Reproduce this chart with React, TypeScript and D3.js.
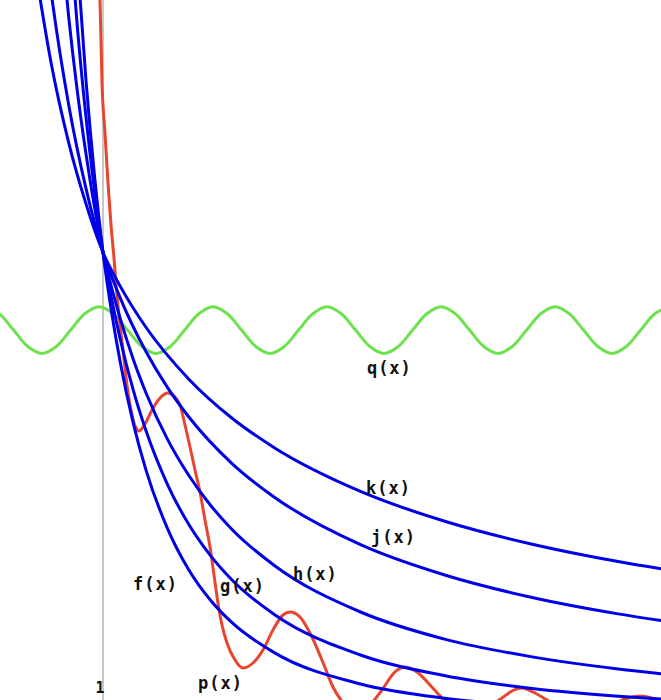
import { useEffect, useRef } from 'react';
import * as d3 from 'd3';

type Pt = [number, number];

// blue family (x, y)
const fPoints: Pt[] = [[0.82, 1.814], [0.85, 1.628], [0.9, 1.372], [0.95, 1.166], [1, 1], [1.05, 0.8723], [1.1, 0.766], [1.175, 0.6366], [1.25, 0.535], [1.375, 0.41], [1.5, 0.321], [1.625, 0.2568], [1.75, 0.2087], [2, 0.1436], [2.5, 0.0769], [3, 0.0461], [3.5, 0.03], [4, 0.0206], [4.3, 0.0168]];
const gPoints: Pt[] = [[0.8, 1.72], [0.85, 1.484], [0.9, 1.292], [0.95, 1.133], [1, 1], [1.05, 0.9004], [1.1, 0.815], [1.175, 0.707], [1.25, 0.619], [1.375, 0.5042], [1.5, 0.418], [1.625, 0.3521], [1.75, 0.3], [2, 0.225], [2.5, 0.139], [3, 0.0942], [3.5, 0.0676], [4, 0.0508], [4.3, 0.0435]];
const hPoints: Pt[] = [[0.75, 1.693], [0.8, 1.504], [0.85, 1.346], [0.9, 1.213], [0.95, 1.098], [1, 1], [1.05, 0.9249], [1.1, 0.859], [1.175, 0.7726], [1.25, 0.7], [1.375, 0.6008], [1.5, 0.523], [1.625, 0.4599], [1.75, 0.408], [2, 0.33], [2.5, 0.231], [3, 0.172], [3.5, 0.135], [4, 0.109], [4.3, 0.097]];
const jPoints: Pt[] = [[0.65, 1.699], [0.7, 1.551], [0.8, 1.316], [0.9, 1.138], [1, 1], [1.1, 0.903], [1.25, 0.788], [1.375, 0.7113], [1.5, 0.648], [1.75, 0.549], [2, 0.476], [2.5, 0.375], [3, 0.309], [3.5, 0.262], [4, 0.227], [4.3, 0.21]];
const kPoints: Pt[] = [[0.6, 1.62], [0.7, 1.401], [0.8, 1.235], [0.9, 1.105], [1, 1], [1.1, 0.928], [1.25, 0.84], [1.5, 0.729], [1.75, 0.646], [2, 0.582], [2.5, 0.489], [3, 0.424], [3.5, 0.376], [4, 0.339], [4.3, 0.3205]];

// red p(x)
const pPoints: Pt[] = [
  [0.9766, 1.583], [0.9824, 1.54], [0.9941, 1.3626], [1.0115, 1.2556], [1.029, 1.1487], [1.0465, 1.0588],
  [1.0639, 0.9882], [1.0814, 0.9091], [1.0989, 0.8449], [1.1164, 0.7914], [1.1397, 0.7166], [1.163, 0.6631],
  [1.1921, 0.6246], [1.2096, 0.6182], [1.2445, 0.6332], [1.2853, 0.6631], [1.3319, 0.6888], [1.3785, 0.6995],
  [1.4192, 0.6909], [1.4483, 0.6738], [1.4775, 0.631], [1.5066, 0.584], [1.5357, 0.5348], [1.5648, 0.4877],
  [1.5939, 0.4278], [1.6231, 0.3701], [1.6464, 0.3102], [1.6696, 0.2503], [1.6929, 0.2032], [1.7221, 0.1647],
  [1.7687, 0.1283], [1.8153, 0.1112], [1.8735, 0.1219], [1.9318, 0.1497], [1.99, 0.1925], [2.0482, 0.2246],
  [2.089, 0.231], [2.1472, 0.2203], [2.2055, 0.1861], [2.2754, 0.1283], [2.3394, 0.0706], [2.4093, 0.0321],
  [2.4792, 0.0128], [2.5549, 0.0321], [2.6248, 0.0642], [2.7005, 0.1027], [2.7588, 0.1134], [2.8287, 0.1027],
  [2.9044, 0.0749], [2.9743, 0.0471], [3.05, 0.0257], [3.149, 0.0086], [3.2538, 0.0299], [3.3237, 0.0471],
  [3.382, 0.062], [3.4402, 0.0684], [3.5043, 0.0599], [3.5858, 0.0428], [3.6907, 0.0214], [3.8072, 0.0128],
  [3.9236, 0.0257], [4.0401, 0.0449], [4.1275, 0.0513], [4.2148, 0.0449], [4.3022, 0.0299],
];

// green q(x)
const qX = [0.313, 0.396, 0.479, 0.562, 0.645, 0.728, 0.811, 0.894, 0.977, 1.06, 1.143, 1.226, 1.309, 1.392, 1.475, 1.558, 1.641, 1.724, 1.807, 1.89, 1.973, 2.056, 2.139, 2.222, 2.305, 2.388, 2.471, 2.554, 2.637, 2.72, 2.803, 2.886, 2.969, 3.052, 3.135, 3.218, 3.301, 3.384, 3.467, 3.55, 3.633, 3.716, 3.799, 3.882, 3.965, 4.048, 4.131, 4.214, 4.297];
const qY = [0.884, 0.869, 0.834, 0.799, 0.784, 0.799, 0.834, 0.869, 0.884, 0.869, 0.834, 0.799, 0.784, 0.799, 0.834, 0.869, 0.884, 0.869, 0.834, 0.799, 0.784, 0.799, 0.834, 0.869, 0.884, 0.869, 0.834, 0.799, 0.784, 0.799, 0.834, 0.869, 0.884, 0.869, 0.834, 0.799, 0.784, 0.799, 0.834, 0.869, 0.884, 0.869, 0.834, 0.799, 0.784, 0.799, 0.834, 0.869, 0.884];

const labelNames = ['q(x)', 'k(x)', 'j(x)', 'h(x)', 'g(x)', 'f(x)', 'p(x)'];
const labelX = [2.537, 2.532, 2.561, 2.106, 1.681, 1.175, 1.553];
const labelY = [0.74, 0.483, 0.379, 0.299, 0.274, 0.278, 0.066];

const App = () => {
  const svgRef = useRef<SVGSVGElement>(null);

  useEffect(() => {
    const width = 661;
    const height = 700;

    const x = d3.scaleLinear().domain([0.4, 4.25]).range([0, width]);
    const y = d3.scaleLinear().domain([0, 1.54]).range([720, 0]);

    const svg = d3.select(svgRef.current);
    svg.selectAll('*').remove();
    svg.attr('width', width).attr('height', height);

    svg.append('rect').attr('width', width).attr('height', height).attr('fill', '#fff');

    const line = d3.line<Pt>()
      .x(d => x(d[0]))
      .y(d => y(d[1]))
      .curve(d3.curveMonotoneX);

    // the x = 1 line
    svg.append('line')
      .attr('x1', x(1)).attr('x2', x(1))
      .attr('y1', 0).attr('y2', height)
      .attr('stroke', '#c8c8c8')
      .attr('stroke-width', 2);

    const qPoints: Pt[] = qX.map((v, i) => [v, qY[i]]);
    svg.append('path')
      .datum(qPoints)
      .attr('fill', 'none')
      .attr('stroke', '#6ee24e')
      .attr('stroke-width', 3)
      .attr('d', d3.line<Pt>().x(d => x(d[0])).y(d => y(d[1])).curve(d3.curveCatmullRom)(qPoints));

    svg.append('path')
      .datum(pPoints)
      .attr('fill', 'none')
      .attr('stroke', '#e8452e')
      .attr('stroke-width', 3)
      .attr('d', line);

    [fPoints, gPoints, hPoints, jPoints, kPoints].forEach(pts => {
      svg.append('path')
        .datum(pts)
        .attr('fill', 'none')
        .attr('stroke', '#0000e6')
        .attr('stroke-width', 3)
        .attr('d', line);
    });

    svg.selectAll('text.lbl')
      .data(labelNames)
      .join('text')
      .attr('class', 'lbl')
      .attr('x', (_, i) => x(labelX[i]))
      .attr('y', (_, i) => y(labelY[i]))
      .attr('font-family', 'DejaVu Sans Mono')
      .attr('font-weight', 'bold')
      .attr('font-size', 17)
      .attr('letter-spacing', 1)
      .attr('fill', '#111')
      .text(d => d);

    svg.append('text')
      .attr('x', x(1) - 3)
      .attr('y', y(0.058))
      .attr('text-anchor', 'middle')
      .attr('font-family', 'DejaVu Sans Mono')
      .attr('font-weight', 'bold')
      .attr('font-size', 15)
      .attr('fill', '#111')
      .text('1');
  }, []);

  return (
    <svg ref={svgRef} style={{ position: 'absolute', left: 0, top: 0, display: 'block' }}></svg>
  );
};

export default App;
